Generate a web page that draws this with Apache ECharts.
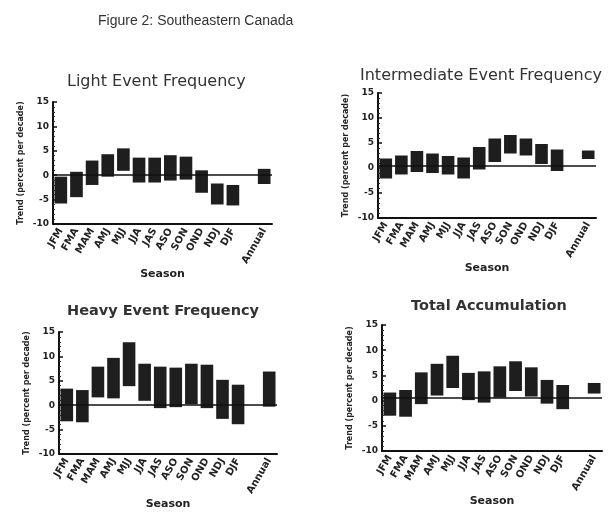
<!DOCTYPE html>
<html><head><meta charset="utf-8">
<script src="https://cdn.jsdelivr.net/npm/echarts@6/dist/echarts.min.js"></script>
<style>html,body{margin:0;padding:0;background:#fff}#c{width:608px;height:513px}</style>
</head><body><div id="c"></div>
<script>
const seasons = ['JFM','FMA','MAM','AMJ','MJJ','JJA','JAS','ASO','SON','OND','NDJ','DJF','','Annual'];
const yTicks = [-10, -5, 0, 5, 10, 15];
// trend range (low, high), percent per decade; null = empty slot
const lightLow  = [-5.8,-4.5,-2.0,-0.3, 0.9,-1.5,-1.5,-1.1,-0.9,-3.6,-6.0,-6.2,null,-1.8];
const lightHigh = [-0.3, 0.7, 3.0, 4.3, 5.5, 3.6, 3.6, 4.1, 3.8, 1.0,-1.7,-2.0,null, 1.3];
const interLow  = [-2.1,-1.3,-0.8,-1.0,-1.3,-2.1,-0.3, 1.2, 2.9, 2.5, 0.8,-0.6,null, 1.8];
const interHigh = [ 1.9, 2.5, 3.4, 2.9, 2.4, 2.1, 4.2, 5.9, 6.6, 5.9, 4.8, 3.7,null, 3.5];
const heavyLow  = [-3.3,-3.5, 1.6, 1.4, 3.9, 0.9,-0.6,-0.4, 0.2,-0.6,-2.8,-3.9,null,-0.3];
const heavyHigh = [ 3.4, 3.1, 7.9, 9.7,12.9, 8.5, 7.9, 7.7, 8.5, 8.3, 5.2, 4.2,null, 6.9];
const totalLow  = [-3.0,-3.2,-0.7, 1.0, 2.5, 0.1,-0.4, 0.6, 1.9, 0.8,-0.6,-1.7,null, 1.4];
const totalHigh = [ 1.6, 2.1, 5.6, 7.3, 8.9, 5.5, 5.8, 6.8, 7.8, 6.6, 4.1, 3.1,null, 3.5];

const panels = [
  {title:'Light Event Frequency', low:lightLow, high:lightHigh, grid:{left:53, top:102, width:219, height:122}, tl:[67,74], bold:false, zero:0},
  {title:'Intermediate Event Frequency', low:interLow, high:interHigh, grid:{left:378, top:93, width:218, height:125}, tl:[360,68], bold:false, zero:0.5},
  {title:'Heavy Event Frequency', low:heavyLow, high:heavyHigh, grid:{left:59, top:332, width:218, height:122}, tl:[67,304], bold:true, zero:0},
  {title:'Total Accumulation', low:totalLow, high:totalHigh, grid:{left:382, top:325, width:220, height:126}, tl:[411,299], bold:true, zero:0.5}
];

function renderItem(params, api){
  const lo = api.coord([api.value(0), api.value(1)]);
  const hi = api.coord([api.value(0), api.value(2)]);
  const w = api.size([1,0])[0]*0.81;
  return {type:'rect', shape:{x:lo[0]-w/2, y:hi[1], width:w, height:lo[1]-hi[1]}, style:{fill:'#1e1e1e'}};
}

const ink = '#222';
const option = {
  animation:false,
  backgroundColor:'#fff',
  title:[{text:'Figure 2: Southeastern Canada', left:93, top:9, textStyle:{fontFamily:'Liberation Sans', fontSize:14, fontWeight:'normal', color:'#333'}}]
    .concat(panels.map(p=>({text:p.title, left:p.tl[0], top:p.tl[1], padding:0,
      textStyle:{fontFamily:'DejaVu Sans', fontSize:p.bold?14.5:16, fontWeight:p.bold?'bold':'normal', color:'#333'}}))),
  grid: panels.map(p=>p.grid),
  xAxis: panels.map((p,i)=>({type:'category', gridIndex:i, data:seasons, boundaryGap:true,
    name:'Season', nameLocation:'middle', nameGap:39,
    nameTextStyle:{fontFamily:'DejaVu Sans', fontSize:11, fontWeight:'bold', color:ink},
    axisLine:{onZero:false, lineStyle:{color:'#111', width:2}},
    axisTick:{inside:true, length:3, lineStyle:{color:'#111', width:1.5}},
    axisLabel:{rotate:60, interval:0, margin:5, fontFamily:'DejaVu Sans', fontSize:10, fontWeight:'bold', color:ink},
    splitLine:{show:false}})),
  yAxis: panels.map((p,i)=>({type:'value', gridIndex:i, min:yTicks[0], max:yTicks[yTicks.length-1], interval:5,
    name:'Trend (percent per decade)', nameLocation:'middle', nameGap:28, nameRotate:90,
    nameTextStyle:{fontFamily:'DejaVu Sans', fontSize:8, fontWeight:'bold', color:ink},
    axisLine:{show:true, lineStyle:{color:'#111', width:2}},
    axisTick:{show:true, inside:true, length:4, lineStyle:{color:'#111', width:1.5}},
    minorTick:{show:true, splitNumber:5, length:2, lineStyle:{color:'#333', width:1}},
    axisLabel:{margin:4, fontFamily:'DejaVu Sans', fontSize:9, fontWeight:'bold', color:ink,
      formatter:v=>yTicks.includes(v)?String(v):''},
    splitLine:{show:false}})),
  series: panels.map((p,i)=>({type:'custom', xAxisIndex:i, yAxisIndex:i, renderItem:renderItem,
    encode:{x:0, y:[1,2]},
    data: seasons.map((s,k)=>p.low[k]==null?null:[k,p.low[k],p.high[k]]).filter(d=>d),
    markLine:{silent:true, symbol:'none', label:{show:false}, lineStyle:{color:'#111', width:1.5, type:'solid'},
      data:[{yAxis:p.zero}]}}))
};
echarts.init(document.getElementById('c')).setOption(option);
</script></body></html>
